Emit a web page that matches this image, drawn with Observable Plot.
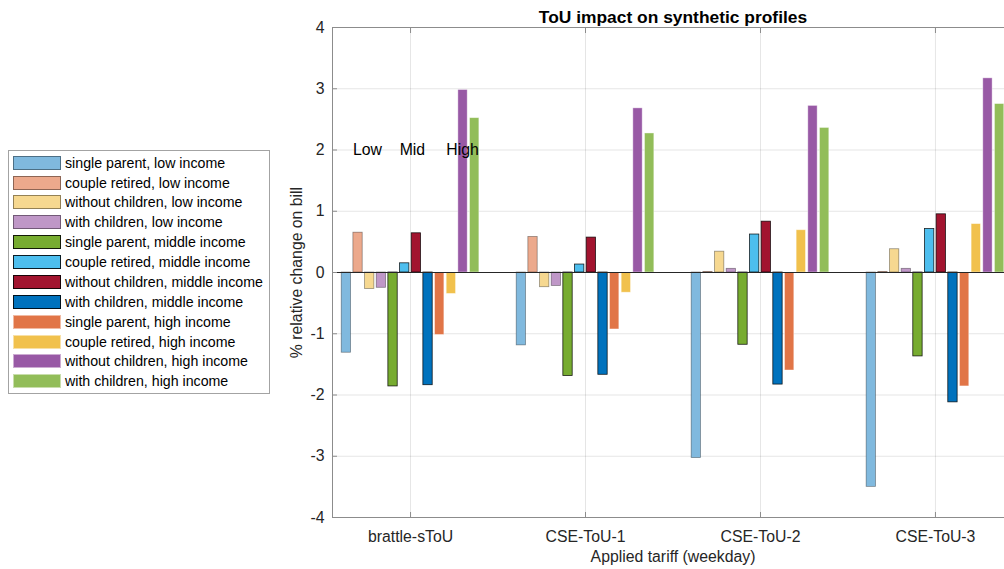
<!DOCTYPE html>
<html><head><meta charset="utf-8">
<script src="https://cdn.jsdelivr.net/npm/d3@7"></script>
<script src="https://cdn.jsdelivr.net/npm/@observablehq/plot@0.6"></script>
<style>
html,body{margin:0;padding:0;background:#fff;overflow:hidden;}
#wrap{position:relative;width:1004px;height:569px;overflow:hidden;font-family:"Liberation Sans",Arial,sans-serif;}
#legend{position:absolute;left:8px;top:150px;width:262px;height:244px;border:1px solid #a3a3a3;background:#fff;box-sizing:border-box;}
.row{position:absolute;left:4px;height:14px;display:flex;align-items:center;white-space:nowrap;font-size:14.2px;color:#000;}
.sw{width:48px;height:14px;box-sizing:border-box;margin-right:4px;flex:none;}
</style></head>
<body><div id="wrap"><div id="chart"></div><div id="legend"></div></div>
<script>
// ---- data ----
const tariffs = ["brattle-sToU", "CSE-ToU-1", "CSE-ToU-2", "CSE-ToU-3"];
const profiles = [
  "single parent, low income",
  "couple retired, low income",
  "without children, low income",
  "with children, low income",
  "single parent, middle income",
  "couple retired, middle income",
  "without children, middle income",
  "with children, middle income",
  "single parent, high income",
  "couple retired, high income",
  "without children, high income",
  "with children, high income"
];
const brattle_sToU = [-1.31, 0.65, -0.27, -0.25, -1.86, 0.15, 0.64, -1.84, -1.02, -0.35, 2.98, 2.52];
const cse_ToU_1    = [-1.19, 0.58, -0.24, -0.22, -1.69, 0.13, 0.57, -1.67, -0.93, -0.33, 2.68, 2.27];
const cse_ToU_2    = [-3.03, 0.01, 0.34, 0.06, -1.18, 0.62, 0.83, -1.83, -1.60, 0.69, 2.72, 2.36];
const cse_ToU_3    = [-3.50, 0.01, 0.38, 0.06, -1.37, 0.71, 0.95, -2.12, -1.86, 0.79, 3.17, 2.75];
const yTicks = [-4, -3, -2, -1, 0, 1, 2, 3, 4];
const incomeLabels = ["Low", "Mid", "High"];
const chartTitle = "ToU impact on synthetic profiles";
const xLabel = "Applied tariff (weekday)";
const yLabel = "% relative change on bill";

// ---- styles / layout config ----
const palette = ["#80B9DE", "#ECA98C", "#F6D890", "#BF97C7",
                 "#77AC30", "#4DBEEE", "#A2142F", "#0072BD",
                 "#E17547", "#F1C14D", "#9859A5", "#92BD59"];
const tierEdge = {low: ["#000", 0.4], middle: ["#000", 0.85], high: ["#fff", 0.5]};
const groupWidth = 0.8;   // fraction of a category occupied by a group (grouped bar layout)
const barFraction = 0.8;  // bar width relative to its slot

// ---- table (grouped bar layout in data space) ----
const seriesByTariff = [brattle_sToU, cse_ToU_1, cse_ToU_2, cse_ToU_3];
const tierOf = p => p.includes("low income") ? "low" : p.includes("middle income") ? "middle" : "high";
const slot = groupWidth / profiles.length;
const slotX = (ti, pi) => ti + 1 + (pi - (profiles.length - 1) / 2) * slot;
const rows = [];
tariffs.forEach((t, ti) => profiles.forEach((p, pi) => {
  const c = slotX(ti, pi);
  rows.push({tariff: t, profile: p, value: seriesByTariff[ti][pi], tier: tierOf(p),
             x1: c - slot * barFraction / 2, x2: c + slot * barFraction / 2});
}));
const labelAnchors = profiles.map((p, pi) => [p, pi]).filter(([p]) => p.startsWith("couple retired"));
const labelRows = incomeLabels.map((l, i) => ({text: l, x: slotX(0, labelAnchors[i][1]), y: 2}));
const xTicks = tariffs.map((t, i) => i + 1);

const barMarks = ["low", "middle", "high"].map(tier =>
  Plot.rectY(rows.filter(d => d.tier === tier), {
    x1: "x1", x2: "x2", y1: 0, y2: "value", fill: "profile",
    stroke: tierEdge[tier][0], strokeOpacity: tierEdge[tier][1], strokeWidth: 0.8
  }));

const chart = Plot.plot({
  width: 1004, height: 569,
  marginLeft: 332, marginRight: -9, marginTop: 27, marginBottom: 52,
  style: {fontFamily: "'Liberation Sans', Arial, sans-serif", fontSize: "15.8px", color: "#262626", background: "#fff"},
  x: {domain: [0.554, 4.446]},
  y: {domain: [-4, 4]},
  color: {domain: profiles, range: palette},
  marks: [
    Plot.gridY(yTicks, {stroke: "#000", strokeOpacity: 0.1}),
    Plot.gridX(xTicks, {stroke: "#000", strokeOpacity: 0.1}),
    ...barMarks,
    Plot.ruleY([0], {stroke: "#262626", strokeWidth: 1}),
    Plot.frame({stroke: "#8c8c8c"}),
    Plot.axisY(yTicks, {tickSize: -5, tickPadding: 13, tickFormat: d => `${d}`, stroke: "#8c8c8c", fill: "#262626",
      label: yLabel, labelAnchor: "center", labelOffset: 42, labelArrow: "none", fontSize: 15.8}),
    Plot.axisX(xTicks, {anchor: "bottom", tickSize: -5, tickPadding: 18.5,
      tickFormat: i => tariffs[i - 1], stroke: "#8c8c8c", fill: "#262626", fontSize: 15.8,
      label: xLabel, labelAnchor: "center", labelOffset: 44, labelArrow: "none"}),
    Plot.axisX(xTicks, {anchor: "top", tickSize: -5, tickFormat: () => "", label: null, stroke: "#8c8c8c"}),
    Plot.text(labelRows, {x: "x", y: "y", text: "text", textAnchor: "start", dx: -5, fontSize: 15.8, fill: "#000"}),
    Plot.text([chartTitle], {frameAnchor: "top", dy: -17, fontWeight: "bold", fontSize: 17.4, fill: "#000"})
  ]
});
document.getElementById("chart").appendChild(chart);

// ---- legend ----
const legend = document.getElementById("legend");
profiles.forEach((p, i) => {
  const [ec, eo] = tierEdge[tierOf(p)];
  const row = document.createElement("div");
  row.className = "row";
  row.style.top = (4.7 + i * 19.87) + "px";
  const sw = document.createElement("div");
  sw.className = "sw";
  sw.style.background = palette[i];
  sw.style.border = "1px solid " + (ec === "#000" ? `rgba(0,0,0,${eo})` : `rgba(255,255,255,${eo})`);
  const tx = document.createElement("span");
  tx.textContent = p;
  row.appendChild(sw); row.appendChild(tx);
  legend.appendChild(row);
});
</script>
</body></html>
